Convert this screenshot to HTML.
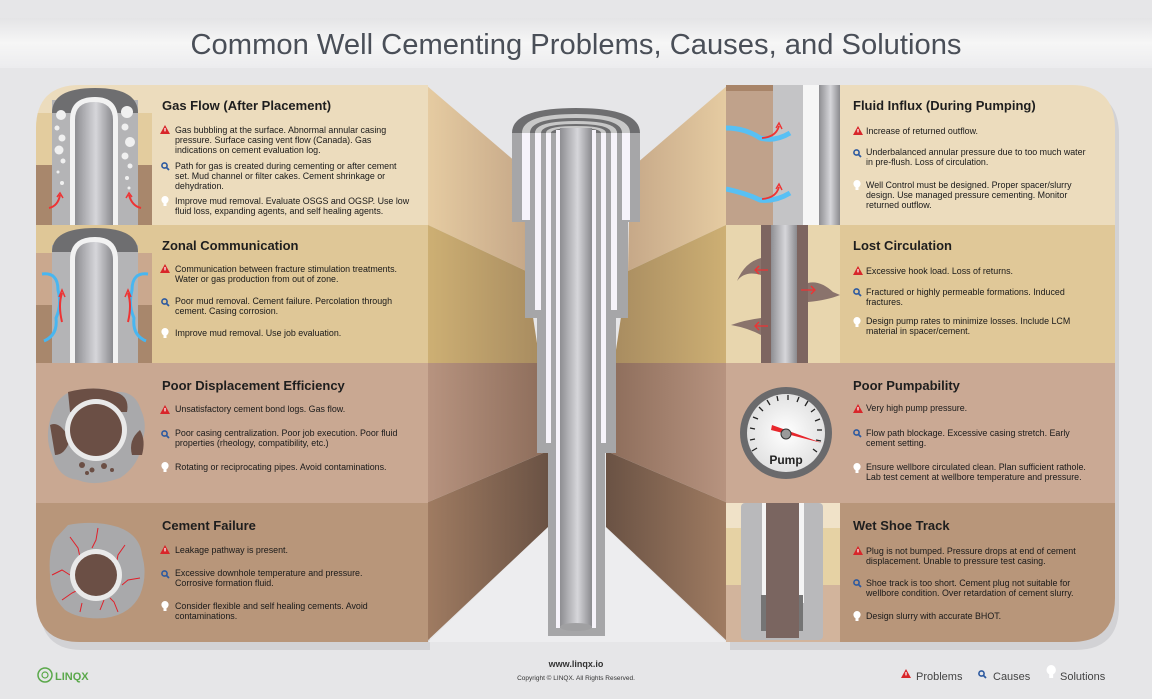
<!DOCTYPE html>
<html><head><meta charset="utf-8"><style>
html,body{margin:0;padding:0;background:#e6e6e8;}
svg{display:block;}
text{font-family:"Liberation Sans",sans-serif;}
.t{font-size:13px;font-weight:bold;fill:#1e1e1e;}
.b{font-size:8.9px;fill:#1a1a1a;}
</style></head><body>
<svg width="1152" height="699" viewBox="0 0 1152 699" xmlns="http://www.w3.org/2000/svg">
<defs>
<linearGradient id="pipe" x1="0" x2="1"><stop offset="0" stop-color="#8e8e92"/><stop offset=".55" stop-color="#d6d6da"/><stop offset="1" stop-color="#8a8a8e"/></linearGradient>
<linearGradient id="band" x1="0" y1="0" x2="0" y2="1"><stop offset="0" stop-color="#e4e4e6"/><stop offset=".5" stop-color="#f6f6f6"/><stop offset="1" stop-color="#ececee"/></linearGradient>
<linearGradient id="wl1" x1="0" x2="1"><stop offset="0" stop-color="#e6cca2"/><stop offset="1" stop-color="#c6a888"/></linearGradient>
<linearGradient id="wl2" x1="0" x2="1"><stop offset="0" stop-color="#ceb074"/><stop offset="1" stop-color="#a88c60"/></linearGradient>
<linearGradient id="wl3" x1="0" x2="1"><stop offset="0" stop-color="#b89480"/><stop offset="1" stop-color="#8c6c5a"/></linearGradient>
<linearGradient id="wl4" x1="0" x2="1"><stop offset="0" stop-color="#a07c62"/><stop offset="1" stop-color="#6a5244"/></linearGradient>
<linearGradient id="wr1" x1="1" x2="0"><stop offset="0" stop-color="#e6cca2"/><stop offset="1" stop-color="#c6a888"/></linearGradient>
<linearGradient id="wr2" x1="1" x2="0"><stop offset="0" stop-color="#ceb074"/><stop offset="1" stop-color="#a88c60"/></linearGradient>
<linearGradient id="wr3" x1="1" x2="0"><stop offset="0" stop-color="#b89480"/><stop offset="1" stop-color="#8c6c5a"/></linearGradient>
<linearGradient id="wr4" x1="1" x2="0"><stop offset="0" stop-color="#a07c62"/><stop offset="1" stop-color="#6a5244"/></linearGradient>
<radialGradient id="gface"><stop offset="0" stop-color="#ffffff"/><stop offset="1" stop-color="#e2e2e2"/></radialGradient>
<g id="tri"><path d="M0 9 L5 0 L10 9 Z" fill="#d8262a"/><rect x="4.4" y="3" width="1.2" height="3.4" fill="#fff"/></g>
<g id="mag"><circle cx="3.5" cy="3.5" r="2.6" fill="none" stroke="#2d5aa0" stroke-width="1.6"/><path d="M5.5 5.5 L8 8" stroke="#2d5aa0" stroke-width="1.8"/></g>
<g id="bulb"><ellipse cx="4" cy="3.8" rx="3.6" ry="3.8" fill="#fff"/><rect x="2.5" y="7" width="3" height="3" fill="#fff"/></g>
</defs>

<rect width="1152" height="699" fill="#e6e6e8"/>
<rect x="0" y="18" width="1152" height="50" fill="url(#band)"/>
<text x="576" y="54" text-anchor="middle" font-size="29" fill="#4a4f58" textLength="771" lengthAdjust="spacingAndGlyphs" style="font-family:'Liberation Sans Narrow','Liberation Sans',sans-serif">Common Well Cementing Problems, Causes, and Solutions</text>

<!-- panel shadows -->
<path d="M82 91 H430 V650 H82 Q40 650 40 606 V135 Q40 91 82 91 Z" fill="#d2d2d5"/>
<path d="M730 91 H1075 Q1119 91 1119 135 V606 Q1119 650 1075 650 H730 Z" fill="#d2d2d5"/>

<!-- floor -->
<polygon points="428,642 548,527 605,527 726,642" fill="#ededef"/>

<!-- left walls -->
<polygon points="426,85 524,169 526,271 426,224" fill="url(#wl1)"/>
<polygon points="426,224 526,271 540,363 426,363" fill="url(#wl2)"/>
<polygon points="426,363 540,363 548,451 426,503" fill="url(#wl3)"/>
<polygon points="426,503 548,451 548,527 426,642" fill="url(#wl4)"/>
<!-- right walls -->
<polygon points="728,85 630,169 628,271 728,224" fill="url(#wr1)"/>
<polygon points="728,224 628,271 614,363 728,363" fill="url(#wr2)"/>
<polygon points="728,363 614,363 606,451 728,503" fill="url(#wr3)"/>
<polygon points="728,503 606,451 606,527 728,642" fill="url(#wr4)"/>

<!-- left panel -->
<clipPath id="lp"><path d="M80 85 H428 V642 H80 Q36 642 36 598 V129 Q36 85 80 85 Z"/></clipPath>
<g clip-path="url(#lp)">
<rect x="36" y="85" width="392" height="140" fill="#ecdcbd"/>
<rect x="36" y="225" width="392" height="138" fill="#dfc797"/>
<rect x="36" y="363" width="392" height="140" fill="#c9a892"/>
<rect x="36" y="503" width="392" height="140" fill="#b8967a"/>
<rect x="36" y="113" width="116" height="52" fill="#e3cc9e"/>
<rect x="36" y="165" width="116" height="60" fill="#a8876c"/>
<rect x="52" y="100" width="86" height="125" fill="#b4b4b6"/>
<path d="M52 113 Q52 88 95 88 Q138 88 138 113 Z" fill="#6e6e70"/>
<path d="M70 120 Q70 97 95 97 Q118 97 118 120 V225 H70 Z" fill="#f2f2f2"/>
<path d="M75 120 Q75 102 94 102 Q113 102 113 120 V225 H75 Z" fill="url(#pipe)"/>
<g fill="#f0f0f0"><circle cx="61" cy="115" r="5"/><circle cx="57" cy="128" r="2.5"/><circle cx="62" cy="138" r="3.5"/><circle cx="59" cy="150" r="4.5"/><circle cx="63" cy="161" r="2.5"/><circle cx="58" cy="172" r="1.5"/><circle cx="62" cy="183" r="2"/>
<circle cx="127" cy="112" r="6"/><circle cx="125" cy="127" r="3.5"/><circle cx="130" cy="142" r="5"/><circle cx="125" cy="156" r="3.5"/><circle cx="130" cy="166" r="2.5"/><circle cx="127" cy="178" r="2"/><circle cx="129" cy="188" r="1.5"/></g>
<path d="M49 208 Q58 206 60 195" stroke="#e33" stroke-width="2" fill="none"/><path d="M57 197 L60 193 L63 198" stroke="#e33" stroke-width="1.5" fill="none"/>
<path d="M141 208 Q132 206 129 195" stroke="#e33" stroke-width="2" fill="none"/><path d="M126 198 L129 193 L132 197" stroke="#e33" stroke-width="1.5" fill="none"/>
<rect x="36" y="253" width="116" height="52" fill="#caa88e"/>
<rect x="36" y="305" width="116" height="58" fill="#a8876c"/>
<rect x="52" y="245" width="86" height="118" fill="#b4b4b6"/>
<path d="M52 252 Q52 228 95 228 Q138 228 138 252 Z" fill="#6e6e70"/>
<path d="M70 260 Q70 237 95 237 Q118 237 118 260 V363 H70 Z" fill="#f2f2f2"/>
<path d="M75 260 Q75 242 94 242 Q113 242 113 260 V363 H75 Z" fill="url(#pipe)"/>
<path d="M42 274 Q58 272 58 290 Q62 305 56 318 Q58 335 44 341" stroke="#48b6f0" stroke-width="3" fill="none"/>
<path d="M148 274 Q132 272 132 290 Q128 305 134 318 Q132 335 146 341" stroke="#48b6f0" stroke-width="3" fill="none"/>
<path d="M62 322 Q58 305 62 293" stroke="#e33" stroke-width="2" fill="none"/><path d="M59 297 L62 290 L65 297" stroke="#e33" stroke-width="1.5" fill="none"/>
<path d="M128 322 Q132 305 128 293" stroke="#e33" stroke-width="2" fill="none"/><path d="M125 297 L128 290 L131 297" stroke="#e33" stroke-width="1.5" fill="none"/>
<path d="M70 392 Q95 385 115 392 Q135 390 141 410 Q148 425 142 442 Q140 465 120 478 Q95 487 78 480 Q58 478 52 455 Q45 440 50 420 Q55 398 70 392 Z" fill="#a9a9ab"/>
<path d="M68 392 Q95 385 115 392 Q130 396 127 412 L70 412 Z" fill="#6b4f45"/>
<path d="M50 425 Q60 420 70 440 Q65 455 55 455 Z" fill="#6b4f45"/>
<path d="M140 430 Q146 440 142 455 L132 455 Q128 440 140 430Z" fill="#6b4f45"/>
<g fill="#6b4f45"><circle cx="82" cy="465" r="3"/><circle cx="92" cy="470" r="2.5"/><circle cx="104" cy="466" r="3"/><circle cx="112" cy="470" r="2"/><circle cx="87" cy="473" r="2"/></g>
<circle cx="96" cy="430" r="31" fill="#e9e9e9"/><circle cx="96" cy="430" r="26" fill="#6b4f45"/>
<path d="M68 525 Q95 520 118 527 Q140 535 142 555 Q148 575 140 595 Q130 615 105 618 Q80 620 65 610 Q50 595 50 575 Q48 550 56 538 Z" fill="#a9a9ab"/>
<g stroke="#e0202a" stroke-width="1" fill="none"><path d="M70 537 L78 548 L80 557"/><path d="M98 528 L96 540 L92 548"/><path d="M125 545 L118 555 L116 565"/><path d="M52 575 L62 570 L70 575"/><path d="M140 578 L128 580 L122 585"/><path d="M62 600 L72 593 L78 590"/><path d="M100 610 L104 600"/><path d="M118 612 L114 602 L110 598"/><path d="M80 612 L82 603"/></g>
<circle cx="96" cy="575" r="26" fill="#e9e9e9"/><circle cx="96" cy="575" r="21" fill="#6b4f45"/>
</g>

<!-- right panel -->
<clipPath id="rp"><path d="M726 85 H1071 Q1115 85 1115 129 V598 Q1115 642 1071 642 H726 Z"/></clipPath>
<g clip-path="url(#rp)">
<rect x="726" y="85" width="390" height="140" fill="#ecdcbd"/>
<rect x="726" y="225" width="390" height="138" fill="#e0c898"/>
<rect x="726" y="363" width="390" height="140" fill="#caa994"/>
<rect x="726" y="503" width="390" height="140" fill="#b8967a"/>
<rect x="726" y="85" width="48" height="140" fill="#c0a28b"/>
<rect x="726" y="85" width="48" height="6" fill="#a88468"/>
<rect x="773" y="85" width="31" height="140" fill="#c4c4c6"/>
<rect x="803" y="85" width="16" height="140" fill="#f6f6f6"/>
<rect x="819" y="85" width="21" height="140" fill="url(#pipe)"/>
<path d="M726 128 Q745 128 760 138 Q775 142 790 133" stroke="#58c0f4" stroke-width="5" fill="none"/>
<path d="M726 189 Q745 193 760 200 Q775 202 790 193" stroke="#58c0f4" stroke-width="5" fill="none"/>
<path d="M762 138 Q776 137 779 126" stroke="#e33" stroke-width="1.8" fill="none"/><path d="M776 128 L779 123 L782 129" stroke="#e33" stroke-width="1.4" fill="none"/>
<path d="M762 199 Q776 198 779 187" stroke="#e33" stroke-width="1.8" fill="none"/><path d="M776 189 L779 184 L782 190" stroke="#e33" stroke-width="1.4" fill="none"/>
<rect x="726" y="225" width="114" height="138" fill="#e8d6ae"/>
<rect x="761" y="225" width="47" height="138" fill="#7d6560"/>
<rect x="771" y="225" width="26" height="138" fill="url(#pipe)"/>
<path d="M761 258 Q745 262 737 281 Q745 270 761 275 Z" fill="#8a736c"/>
<path d="M761 318 Q745 320 731 325 Q748 328 761 335 Z" fill="#8a736c"/>
<path d="M808 283 Q820 280 833 292 L840 295 Q828 300 808 302 Z" fill="#8a736c"/>
<g stroke="#e33" stroke-width="1.3" fill="none"><path d="M768 270 H755 M759 266 L755 270 L759 274"/><path d="M768 326 H755 M759 322 L755 326 L759 330"/><path d="M801 290 H815 M811 286 L815 290 L811 294"/></g>
<circle cx="786" cy="433" r="46" fill="#6a6a6c"/>
<circle cx="786" cy="433" r="39" fill="url(#gface)"/>
<g stroke="#222" stroke-width="1.3">
<path d="M752 451 L757 448"/><path d="M750 440 L755 439"/><path d="M750 428 L755 429"/><path d="M753 417 L758 419"/><path d="M759 407 L763 411"/><path d="M767 400 L770 405"/><path d="M777 396 L778 401"/><path d="M788 395 L788 400"/><path d="M799 397 L797 402"/><path d="M808 401 L805 406"/><path d="M815 409 L811 412"/><path d="M820 419 L815 421"/><path d="M822 430 L817 430"/><path d="M821 441 L816 440"/><path d="M817 452 L813 449"/></g>
<path d="M772 425 L822 443 L771 430 Z" fill="#e8262c"/>
<circle cx="786" cy="434" r="5" fill="#9a9a9a" stroke="#333" stroke-width="1"/>
<text x="786" y="464" text-anchor="middle" font-size="12" font-weight="bold" fill="#222">Pump</text>
<rect x="726" y="503" width="114" height="25" fill="#f0e2c8"/>
<rect x="726" y="528" width="114" height="57" fill="#e6d2a4"/>
<rect x="726" y="585" width="114" height="58" fill="#d2b49c"/>
<rect x="741" y="503" width="82" height="137" rx="4" fill="#b9b9bb"/>
<rect x="762" y="503" width="42" height="100" fill="#f4f4f4"/>
<rect x="761" y="595" width="42" height="36" fill="#757575"/>
<rect x="766" y="503" width="33" height="135" fill="#7a6560"/>
</g>

<!-- center well -->
<path d="M512 133 H640 V222 H628 V318 H616 V453 H605 V636 H548 V453 H537 V318 H525 V222 H512 Z" fill="#a6a6a8"/>
<path d="M512 133 Q512 108 576 108 Q640 108 640 133 Z" fill="#6e6e70"/>
<path d="M522 133 Q522 114 576 114 Q630 114 630 133 Z" fill="#c8c8c8"/>
<path d="M530 133 Q530 118 576 118 Q622 118 622 133 Z" fill="#6e6e70"/>
<path d="M535 133 Q535 121 576 121 Q617 121 617 133 Z" fill="#c8c8c8"/>
<path d="M541 133 Q541 124 576 124 Q611 124 611 133 Z" fill="#6e6e70"/>
<path d="M546 133 Q546 126 576 126 Q606 126 606 133 Z" fill="#c8c8c8"/>
<path d="M551 133 Q551 128 576 128 Q601 128 601 133 Z" fill="#6e6e70"/>
<g fill="#f6f3fa"><rect x="522" y="133" width="8" height="87"/><rect x="622" y="133" width="8" height="87"/><rect x="535" y="133" width="6" height="177"/><rect x="611" y="133" width="6" height="177"/><rect x="546" y="133" width="5" height="310"/><rect x="601" y="133" width="5" height="310"/><rect x="556" y="130" width="4" height="498"/><rect x="592" y="130" width="4" height="498"/></g>
<rect x="560" y="128" width="32" height="500" fill="url(#pipe)"/>
<ellipse cx="576" cy="627" rx="16" ry="4" fill="#a0a0a2"/>

<!-- text left -->
<text class="t" x="162" y="110">Gas Flow (After Placement)</text>
<use href="#tri" x="160" y="125"/>
<text class="b" x="175" y="133">Gas bubbling at the surface. Abnormal annular casing</text>
<text class="b" x="175" y="143">pressure. Surface casing vent flow (Canada). Gas</text>
<text class="b" x="175" y="153">indications on cement evaluation log.</text>
<use href="#mag" x="161" y="162"/>
<text class="b" x="175" y="169">Path for gas is created during cementing or after cement</text>
<text class="b" x="175" y="179">set. Mud channel or filter cakes. Cement shrinkage or</text>
<text class="b" x="175" y="189">dehydration.</text>
<use href="#bulb" x="161" y="196"/>
<text class="b" x="175" y="204">Improve mud removal. Evaluate OSGS and OGSP. Use low</text>
<text class="b" x="175" y="214">fluid loss, expanding agents, and self healing agents.</text>

<text class="t" x="162" y="250">Zonal Communication</text>
<use href="#tri" x="160" y="264"/>
<text class="b" x="175" y="272">Communication between fracture stimulation treatments.</text>
<text class="b" x="175" y="282">Water or gas production from out of zone.</text>
<use href="#mag" x="161" y="298"/>
<text class="b" x="175" y="304">Poor mud removal. Cement failure. Percolation through</text>
<text class="b" x="175" y="314">cement. Casing corrosion.</text>
<use href="#bulb" x="161" y="328"/>
<text class="b" x="175" y="336">Improve mud removal. Use job evaluation.</text>

<text class="t" x="162" y="390">Poor Displacement Efficiency</text>
<use href="#tri" x="160" y="405"/>
<text class="b" x="175" y="412">Unsatisfactory cement bond logs. Gas flow.</text>
<use href="#mag" x="161" y="430"/>
<text class="b" x="175" y="436">Poor casing centralization. Poor job execution. Poor fluid</text>
<text class="b" x="175" y="446">properties (rheology, compatibility, etc.)</text>
<use href="#bulb" x="161" y="462"/>
<text class="b" x="175" y="470">Rotating or reciprocating pipes. Avoid contaminations.</text>

<text class="t" x="162" y="530">Cement Failure</text>
<use href="#tri" x="160" y="545"/>
<text class="b" x="175" y="553">Leakage pathway is present.</text>
<use href="#mag" x="161" y="570"/>
<text class="b" x="175" y="576">Excessive downhole temperature and pressure.</text>
<text class="b" x="175" y="586">Corrosive formation fluid.</text>
<use href="#bulb" x="161" y="601"/>
<text class="b" x="175" y="609">Consider flexible and self healing cements. Avoid</text>
<text class="b" x="175" y="619">contaminations.</text>

<!-- text right -->
<text class="t" x="853" y="110">Fluid Influx (During Pumping)</text>
<use href="#tri" x="853" y="126"/>
<text class="b" x="866" y="134">Increase of returned outflow.</text>
<use href="#mag" x="853" y="149"/>
<text class="b" x="866" y="155">Underbalanced annular pressure due to too much water</text>
<text class="b" x="866" y="165">in pre-flush. Loss of circulation.</text>
<use href="#bulb" x="853" y="180"/>
<text class="b" x="866" y="188">Well Control must be designed. Proper spacer/slurry</text>
<text class="b" x="866" y="198">design. Use managed pressure cementing. Monitor</text>
<text class="b" x="866" y="208">returned outflow.</text>

<text class="t" x="853" y="250">Lost Circulation</text>
<use href="#tri" x="853" y="266"/>
<text class="b" x="866" y="274">Excessive hook load. Loss of returns.</text>
<use href="#mag" x="853" y="288"/>
<text class="b" x="866" y="295">Fractured or highly permeable formations. Induced</text>
<text class="b" x="866" y="305">fractures.</text>
<use href="#bulb" x="853" y="317"/>
<text class="b" x="866" y="324">Design pump rates to minimize losses. Include LCM</text>
<text class="b" x="866" y="334">material in spacer/cement.</text>

<text class="t" x="853" y="390">Poor Pumpability</text>
<use href="#tri" x="853" y="404"/>
<text class="b" x="866" y="411">Very high pump pressure.</text>
<use href="#mag" x="853" y="429"/>
<text class="b" x="866" y="436">Flow path blockage. Excessive casing stretch. Early</text>
<text class="b" x="866" y="446">cement setting.</text>
<use href="#bulb" x="853" y="463"/>
<text class="b" x="866" y="470">Ensure wellbore circulated clean. Plan sufficient rathole.</text>
<text class="b" x="866" y="480">Lab test cement at wellbore temperature and pressure.</text>

<text class="t" x="853" y="530">Wet Shoe Track</text>
<use href="#tri" x="853" y="546"/>
<text class="b" x="866" y="554">Plug is not bumped. Pressure drops at end of cement</text>
<text class="b" x="866" y="564">displacement. Unable to pressure test casing.</text>
<use href="#mag" x="853" y="579"/>
<text class="b" x="866" y="586">Shoe track is too short. Cement plug not suitable for</text>
<text class="b" x="866" y="596">wellbore condition. Over retardation of cement slurry.</text>
<use href="#bulb" x="853" y="611"/>
<text class="b" x="866" y="619">Design slurry with accurate BHOT.</text>

<!-- footer -->
<text x="576" y="667" text-anchor="middle" font-size="9" font-weight="bold" fill="#333">www.linqx.io</text>
<text x="576" y="680" text-anchor="middle" font-size="6.5" fill="#333">Copyright © LINQX. All Rights Reserved.</text>
<circle cx="45" cy="675" r="7" fill="none" stroke="#5aa84a" stroke-width="1.5"/>
<circle cx="45" cy="675" r="3" fill="none" stroke="#5aa84a" stroke-width="1.2"/>
<text x="55" y="680" font-size="11" font-weight="bold" fill="#5aa84a">LINQX</text>
<use href="#tri" x="901" y="669"/>
<text x="916" y="680" font-size="11" fill="#444">Problems</text>
<use href="#mag" x="978" y="670"/>
<text x="993" y="680" font-size="11" fill="#444">Causes</text>
<g transform="translate(1046,665) scale(1.3)"><use href="#bulb"/></g>
<text x="1060" y="680" font-size="11" fill="#444">Solutions</text>
</svg>
</body></html>
